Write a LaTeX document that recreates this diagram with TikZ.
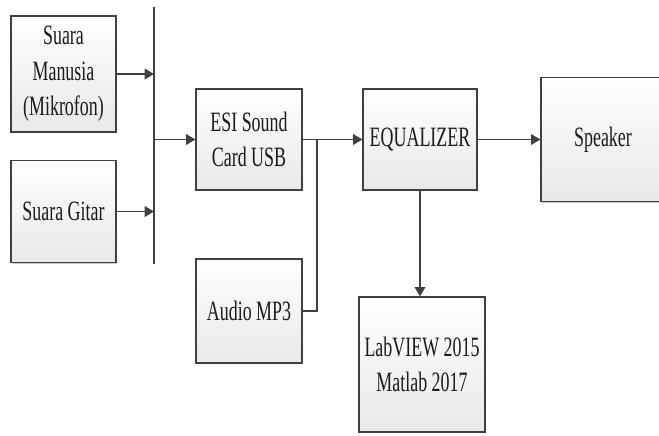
\documentclass[tikz,border=0pt]{standalone}
\usepackage{fontspec}
\setmainfont{Liberation Serif}[FakeStretch=0.64]
\usepackage{tikz}
\usetikzlibrary{positioning,arrows.meta,calc,shadows}
\definecolor{ln}{HTML}{404040}
\definecolor{tx}{HTML}{1A1A1A}

\begin{document}
\begin{tikzpicture}[x=0.75pt,y=-0.75pt,
 b/.style={draw=ln,line width=0.9pt,align=center,inner sep=2pt,top color=white,bottom color=black!9,
  drop shadow={shadow xshift=1.1pt,shadow yshift=-1.1pt,fill=black!35,opacity=0.6},
  text=tx,font=\fontsize{21}{26.5}\selectfont},
 a/.style={-{Triangle[length=7pt,width=8pt]},draw=ln,line width=1.1pt},
 l/.style={draw=ln,line width=1.1pt}]
\useasboundingbox (0,0) rectangle (659,435);
% inputs
\node[b,minimum width=78.75pt,minimum height=87pt] (sm) at (63.5,74) {Suara\\Manusia\\(Mikrofon)};
\node[b,minimum width=78.75pt,minimum height=77pt] (sg) at (63.5,211.5) {Suara Gitar};
% bus
\coordinate (bt) at (154,7);
\coordinate (bb) at (154,264);
\coordinate (b1) at (154,74);
\coordinate (b2) at (154,211.5);
\coordinate (b3) at (154,139.5);
\draw[l] (bt)--(bb);
\draw[a] (sm)--(b1); \draw[a] (sg)--(b2);
% chain
\node[b,minimum width=79.5pt,minimum height=75.75pt] (esi) at (249,139.5) {ESI Sound\\Card USB};
\node[b,minimum width=79.5pt,minimum height=78pt] (mp3) at (249,311) {Audio MP3};
\node[b,minimum width=85.5pt,minimum height=75.75pt] (eq) at (420,139.5) {EQUALIZER};
\node[b,minimum width=93pt,minimum height=93pt] (spk) at (603,139.5) {Speaker};
\node[b,minimum width=94.5pt,minimum height=101.25pt] (lab) at (422,364.5) {LabVIEW 2015\\Matlab 2017};
\coordinate (j) at (317,139.5);
\draw[a] (b3)--(esi);
\draw[a] (esi)--(eq);
\draw[l] (mp3.east)-|(j);
\draw[a] (eq)--(spk);
\draw[a] (eq.south)--(eq.south |- lab.north);
\end{tikzpicture}
\end{document}
